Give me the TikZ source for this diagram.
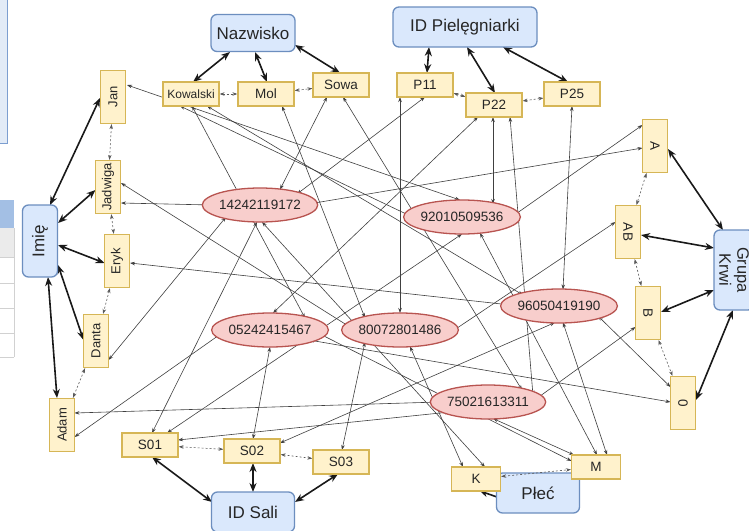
\documentclass[tikz,border=0pt]{standalone}
\usepackage{fontspec}
\setmainfont{Liberation Sans}
\usetikzlibrary{shapes.geometric,arrows.meta,calc,backgrounds}
\definecolor{bluefill}{HTML}{DAE8FC}
\definecolor{blueline}{HTML}{6C8EBF}
\definecolor{yelfill}{HTML}{FFF2CC}
\definecolor{yelline}{HTML}{D6B656}
\definecolor{redfill}{HTML}{F8CECC}
\definecolor{redline}{HTML}{B85450}
\definecolor{edgegray}{HTML}{404040}
\definecolor{panelfill}{HTML}{E2EBF7}
\definecolor{panelline}{HTML}{7C9ED0}
\definecolor{headfill}{HTML}{A3BFE4}
\begin{document}
\begin{tikzpicture}[x=1pt,y=-1pt,
  attr/.style={draw=blueline,fill=bluefill,line width=1.3pt,rounded corners=6pt,font=\fontsize{17}{19}\selectfont,inner sep=0pt,text=black!85},
  val/.style={draw=yelline,fill=yelfill,line width=1.2pt,inner sep=0pt,minimum width=56pt,minimum height=24pt,font=\fontsize{13.5}{15}\selectfont,text=black!85},
  vval/.style={val,minimum width=53pt,minimum height=25pt,rotate=90,font=\fontsize{13}{15}\selectfont},
  rval/.style={val,minimum width=53pt,minimum height=25pt,rotate=-90},
  pesel/.style={ellipse,draw=redline,fill=redfill,line width=1.3pt,inner sep=0pt,minimum width=97pt,minimum height=34pt,font=\fontsize{13.5}{15}\selectfont,text=black!85},
  link/.style={{Stealth[length=5pt,width=3.5pt]}-{Stealth[length=5pt,width=3.5pt]},draw=edgegray,line width=0.6pt},
  dlink/.style={link,dash pattern=on 2pt off 2pt,draw=black!65},
  strong/.style={{Stealth[length=9pt,width=7pt]}-{Stealth[length=9pt,width=7pt]},line width=1.6pt,draw=black!90},
  strongone/.style={-{Stealth[length=8pt,width=7pt]},line width=1.6pt,draw=black!90},
]
\useasboundingbox (0,0) rectangle (749,530);
\clip (0,0) rectangle (749,530);

% fragments of the surrounding window at the left edge
\fill[panelfill] (-1,-1) rectangle (7,143);
\draw[panelline,line width=0.8pt] (7,-1) -- (7,143) -- (-1,143);
\fill[headfill] (-1,200) rectangle (14,228);
\fill[black!8] (-1,228) rectangle (14,257);
\draw[black!18,line width=0.6pt] (-1,257) -- (14,257) (-1,283) -- (14,283) (-1,308) -- (14,308) (-1,333) -- (14,333) (-1,357) -- (14,357) (14,228) -- (14,357);

% attribute boxes
\node[attr,minimum width=84pt,minimum height=37pt] (naz) at (253,33) {Nazwisko};
\node[attr,minimum width=144pt,minimum height=40pt] (idp) at (465,27) {ID Pielęgniarki};
\node[attr,minimum width=72pt,minimum height=35pt,rotate=90] (imie) at (40,241) {Imię};
\node[attr,minimum width=80pt,minimum height=40pt,rotate=-90,align=center,font=\fontsize{16.5}{18}\selectfont] (gk) at (734,270) {Grupa\\Krwi};
\node[attr,minimum width=83pt,minimum height=40pt] (ids) at (253,512) {ID Sali};
\node[attr,minimum width=83pt,minimum height=40pt] (plec) at (538,493) {Płeć};

% values
\node[val,font=\fontsize{12}{14}\selectfont] (kow) at (191,94) {Kowalski};
\node[val] (mol) at (266,94) {Mol};
\node[val] (sow) at (341,85) {Sowa};
\node[val] (p11) at (425,85) {P11};
\node[val] (p22) at (494,105) {P22};
\node[val] (p25) at (572,94) {P25};
\node[vval] (jan) at (113,97) {Jan};
\node[vval] (jad) at (108,187) {Jadwiga};
\node[vval] (ery) at (117,261) {Eryk};
\node[vval] (dan) at (96,341) {Danta};
\node[vval] (ada) at (62,425) {Adam};
\node[rval] (a) at (655,146) {A};
\node[rval] (ab) at (628,232) {AB};
\node[rval] (b) at (648,313) {B};
\node[rval] (zero) at (683,403) {0};
\node[val] (s01) at (150,445) {S01};
\node[val] (s02) at (252,451) {S02};
\node[val] (s03) at (341,462) {S03};
\node[val,minimum width=49pt] (k) at (476,479) {K};
\node[val,minimum width=49pt] (m) at (596,467) {M};

% patients
\node[pesel] (e1) at (260,205) {14242119172};
\node[pesel,minimum width=99pt] (e2) at (462,217) {92010509536};
\node[pesel] (e3) at (559,306) {96050419190};
\node[pesel] (e4) at (270,330) {05242415467};
\node[pesel] (e5) at (400,330) {80072801486};
\node[pesel,minimum width=98pt] (e6) at (488,402) {75021613311};

\draw[dlink] (k) -- (m);

\begin{scope}[on background layer]
\fill[white] (0,0) rectangle (749,530);
% strong links attribute - value
\draw[strong] ($(naz)+(-23,19)$) -- ($(kow)+(2,-12)$);
\draw[strong] ($(naz)+(2,19)$) -- ($(mol)+(1,-12)$);
\draw[strong] ($(naz)+(42,12)$) -- ($(sow)+(-1,-12)$);
\draw[strong] ($(idp)+(-36,20)$) -- ($(p11)+(2,-12)$);
\draw[strong] ($(idp)+(2,20)$) -- ($(p22)+(1,-12)$);
\draw[strong] ($(idp)+(38,20)$) -- ($(p25)+(-4,-12)$);
\draw[strong] ($(imie)+(10,-36)$) -- ($(jan)+(-13,1)$);
\draw[strong] ($(imie)+(18,-18)$) -- ($(jad)+(-12.5,3)$);
\draw[strong] ($(imie)+(18,4)$) -- ($(ery)+(-12.5,2)$);
\draw[strong] ($(imie)+(18,24)$) -- ($(dan)+(-12.5,-1)$);
\draw[strong] ($(imie)+(8,36)$) -- ($(ada)+(-5,-27)$);
\draw[strong] ($(gk)+(-11,-40)$) -- ($(a)+(13,3)$);
\draw[strong] ($(gk)+(-20,-22)$) -- ($(ab)+(13,3)$);
\draw[strong] ($(gk)+(-20,20)$) -- ($(b)+(13,-1)$);
\draw[strong] ($(gk)+(-1,40)$) -- ($(zero)+(13,-3)$);
\draw[strong] ($(ids)+(-41,-10)$) -- ($(s01)+(2,12)$);
\draw[strong] ($(ids)+(0,-20)$) -- ($(s02)+(1,12)$);
\draw[strong] ($(ids)+(42,-10)$) -- ($(s03)+(-3,12)$);
\draw[strongone] ($(plec)+(-41,4)$) -- ($(k)+(4,12)$);
% dashed links between values
\draw[dlink] (kow) -- (mol);
\draw[dlink] (mol) -- (sow);
\draw[dlink] (p11) -- (p22);
\draw[dlink] (p22) -- (p25);
\draw[dlink] (jan) -- (jad);
\draw[dlink] (jad) -- (ery);
\draw[dlink] (ery) -- (dan);
\draw[dlink] (dan) -- (ada);
\draw[dlink] (a) -- (ab);
\draw[dlink] (ab) -- (b);
\draw[dlink] (b) -- (zero);
\draw[dlink] (s01) -- (s02);
\draw[dlink] (s02) -- (s03);
% patient links
\draw[link] ($(jan)+(14,-12)$) -- ($(e2)+(-2,-17)$);
\draw[link] ($(jad)+(13,16)$) -- ($(e1)+(-48.5,0)$);
\draw[link] ($(jad)+(13,-4)$) -- ($(e5)+(-48.5,-2)$);
\draw[link] ($(ery)+(13,2)$) -- ($(e3)+(-48.5,-1)$);
\draw[link] ($(dan)+(12.5,19)$) -- ($(e1)+(-34,12)$);
\draw[link] ($(ada)+(12.5,-12)$) -- ($(e6)+(-49,0)$);
\draw[link] ($(ada)+(12.5,12)$) -- ($(e4)+(-48,3)$);
\draw[link] ($(kow)+(1,12)$) -- ($(e4)+(35,-12)$);
\draw[link] ($(kow)+(-11,12)$) -- ($(e2)+(-49.5,0)$);
\draw[link] ($(kow)+(16,12)$) -- ($(e3)+(-36,-11)$);
\draw[link] ($(mol)+(16,12)$) -- ($(e5)+(-35,-12)$);
\draw[link] ($(sow)+(-14,12)$) -- ($(e1)+(20,-15.5)$);
\draw[link] ($(sow)+(2,12)$) -- ($(e6)+(34,-12)$);
\draw[link] ($(p11)+(0,12)$) -- ($(e1)+(37,-11)$);
\draw[link] ($(p11)+(-25,12)$) -- ($(e5)+(0,-17)$);
\draw[link] ($(p22)+(-16,12)$) -- ($(e4)+(3,-17)$);
\draw[link] ($(p22)+(-1,12)$) -- ($(e2)+(31,-13)$);
\draw[link] ($(p22)+(16,12)$) -- ($(e6)+(45,-6.5)$);
\draw[link] ($(p25)+(0,12)$) -- ($(e3)+(4,-16.5)$);
\draw[link] ($(a)+(-12.5,2)$) -- ($(e1)+(48.5,-1)$);
\draw[link] ($(a)+(-12.5,-21)$) -- ($(e2)+(49.5,0)$);
\draw[link] ($(ab)+(-12.5,-10)$) -- ($(e5)+(40,9.5)$);
\draw[link] ($(b)+(-12.5,14)$) -- ($(e6)+(48,-3)$);
\draw[link] ($(zero)+(-12.5,-1)$) -- ($(e4)+(39,10)$);
\draw[link] ($(zero)+(-12.5,-16)$) -- ($(e3)+(39,10)$);
\draw[link] ($(s01)+(2,-12)$) -- ($(e1)+(-3,17)$);
\draw[link] ($(s01)+(28,-5)$) -- ($(e6)+(-38,10)$);
\draw[link] ($(s01)+(17,-12)$) -- ($(e2)+(0,17)$);
\draw[link] ($(s02)+(1,-12)$) -- ($(e4)+(0,17)$);
\draw[link] ($(s02)+(28,-8)$) -- ($(e3)+(-4,16.5)$);
\draw[link] ($(s03)+(1,-12)$) -- ($(e5)+(-35,12)$);
\draw[link] ($(k)+(-13,-12)$) -- ($(e5)+(10,16.5)$);
\draw[link] ($(k)+(9,-12)$) -- ($(e1)+(2,17)$);
\draw[link] ($(m)+(-24.5,-6)$) -- ($(e4)+(48,3)$);
\draw[link] ($(m)+(11,-12)$) -- ($(e3)+(4,16.5)$);
\draw[link] ($(m)+(1,-12)$) -- ($(e2)+(18,16)$);
\draw[link] ($(m)+(-22,-12)$) -- ($(e6)+(5,16.5)$);
\end{scope}
\end{tikzpicture}
\end{document}
